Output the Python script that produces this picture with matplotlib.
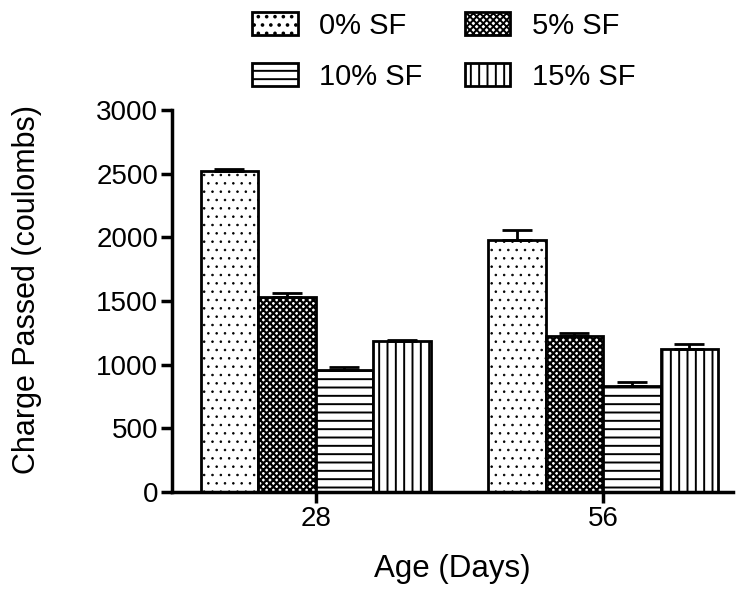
import numpy as np
import matplotlib.pyplot as plt

plt.rcParams['font.family'] = ['Liberation Sans', 'DejaVu Sans']

# data
ages = ["28", "56"]
labels = ["0% SF", "5% SF", "10% SF", "15% SF"]
means = [
    [2525, 1980],   # 0% SF
    [1530, 1228],   # 5% SF
    [960, 830],     # 10% SF
    [1183, 1125],   # 15% SF
]
errs = [
    [12, 78],
    [30, 24],
    [20, 30],
    [10, 40],
]
hatches = ["..", "xxxxx", "--", "||"]
hatch_lw = [0.6, 1.6, 1.4, 1.4]

fig = plt.figure(figsize=(7.4, 5.89), dpi=100)
ax = fig.add_axes([0.2324, 0.1647, 0.7576, 0.6485])

x = np.arange(len(ages))
w = 0.2
handles = []
for i in range(len(labels)):
    pos = x + (i - 1.5) * w
    plt.rcParams['hatch.linewidth'] = hatch_lw[i]
    b = ax.bar(pos, means[i], w, color='white', edgecolor='black',
               linewidth=2, hatch=hatches[i], label=labels[i], zorder=2)
    ax.errorbar(pos, means[i], yerr=[np.zeros(len(ages)), errs[i]],
                fmt='none', ecolor='black', elinewidth=2, capsize=11,
                capthick=2, zorder=3)
    handles.append(b)

ax.set_xlim(-0.5, 1.45)
ax.set_ylim(0, 3000)
ax.set_yticks(range(0, 3001, 500))
ax.set_xticks(x)
ax.set_xticklabels(ages)
for s in ['top', 'right']:
    ax.spines[s].set_visible(False)
for s in ['left', 'bottom']:
    ax.spines[s].set_linewidth(2.5)
ax.tick_params(width=2.5, length=8, labelsize=20, pad=2)
ax.set_ylabel("Charge Passed (coulombs)", fontsize=22)
ax.yaxis.set_label_coords(-0.232, 0.53)
ax.set_xlabel("Age (Days)", fontsize=22.5, labelpad=16)

order = [0, 2, 1, 3]
fig.legend([handles[k] for k in order], [labels[k] for k in order],
           ncol=2, loc='upper center', bbox_to_anchor=(0.6, 1.025),
           frameon=False, fontsize=21, handlelength=1.55, handleheight=0.85,
           labelspacing=0.8, columnspacing=1.45, handletextpad=0.75)

fig.savefig("out.png", dpi=100)
